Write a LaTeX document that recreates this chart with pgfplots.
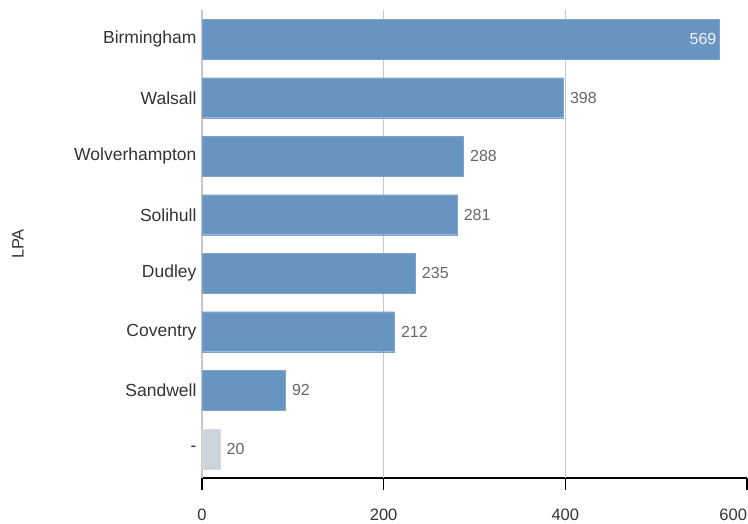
\documentclass[border=0pt]{standalone}
\usepackage{pgfplots}
\pgfplotsset{compat=1.18}
\usepackage{fontspec}
\setmainfont{Liberation Sans}
\definecolor{barblue}{HTML}{6894C2}
\definecolor{bargrey}{HTML}{CDD4DC}
\definecolor{gridgrey}{HTML}{C8C8C8}
\definecolor{valgrey}{HTML}{666666}
\definecolor{txt}{HTML}{333333}
\begin{document}
\begin{tikzpicture}
\useasboundingbox (-202pt,-46pt) rectangle (546pt,478pt);
\begin{axis}[
  at={(0,0)}, anchor=south west,
  scale only axis, width=545pt, height=468pt,
  xmin=0, xmax=600, ymin=-0.5, ymax=7.5,
  xbar, bar width=40pt, bar shift=0pt,
  axis lines*=left,
  axis line style={-},
  y axis line style={draw=none},
  x axis line style={black, line width=1.2pt},
  xtick={0,200,400,600},
  xticklabels={0,200,400,\llap{600}},
  xtick align=outside,
  major tick length=12pt,
  xtick style={black, line width=1.2pt},
  ytick={0,...,7},
  yticklabels={-,Sandwell,Coventry,Dudley,Solihull,Wolverhampton,Walsall,Birmingham},
  ytick style={draw=none},
  yticklabel style={font=\fontsize{17.5}{20}\selectfont, text=txt, xshift=10pt},
  xticklabel style={font=\fontsize{16.5}{19}\selectfont, text=txt, yshift=-15pt},
  /pgf/number format/assume math mode=true,
  extra x ticks={0,200,400},
  extra x tick labels={},
  extra x tick style={grid=major, major grid style={gridgrey, line width=1.5pt}, tick style={draw=none}},
  ylabel={LPA},
  ylabel style={at={(axis description cs:-0.3376,0.5)}, anchor=center, font=\fontsize{16.5}{19}\selectfont, text=txt},
  clip=false,
  nodes near coords,
  every node near coord/.append style={font=\fontsize{16}{19}\selectfont, text=valgrey, anchor=west, xshift=3pt},
]
\addplot[fill=barblue, draw=barblue!85!white] coordinates {(398,6) (288,5) (281,4) (235,3) (212,2) (92,1)};
\addplot[fill=bargrey, draw=bargrey!85!white] coordinates {(20,0)};
\addplot[fill=barblue, draw=barblue!85!white, every node near coord/.append style={anchor=east, text=white!92!gray, xshift=-2pt}] coordinates {(569,7)};
\end{axis}
\end{tikzpicture}
\end{document}
